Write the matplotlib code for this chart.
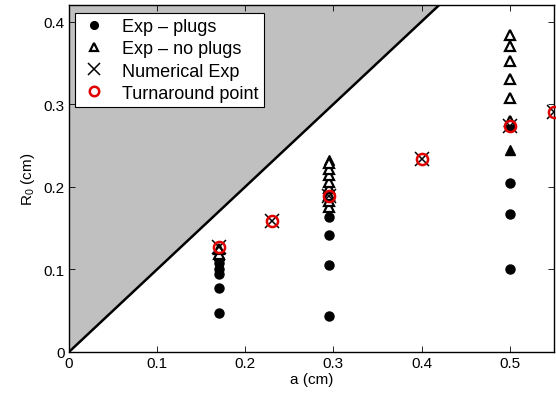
import matplotlib
matplotlib.use('Agg')
import matplotlib.pyplot as plt
import numpy as np

plt.rcParams['font.family'] = ['Liberation Sans', 'DejaVu Sans']
plt.rcParams['mathtext.default'] = 'regular'

# datos experimentales con tapones
plugs_a = [0.17, 0.17, 0.17, 0.17, 0.17, 0.17,
           0.295, 0.295, 0.295, 0.295,
           0.5, 0.5, 0.5, 0.5]
plugs_r = [0.047, 0.078, 0.094, 0.101, 0.108, 0.113,
           0.044, 0.105, 0.142, 0.163,
           0.101, 0.167, 0.204, 0.272]

# datos experimentales sin tapones
noplugs_a = [0.17, 0.17,
             0.295, 0.295, 0.295, 0.295, 0.295, 0.295, 0.295, 0.295,
             0.5, 0.5, 0.5, 0.5, 0.5, 0.5]
noplugs_r = [0.118, 0.125,
             0.176, 0.183, 0.19, 0.198, 0.206, 0.214, 0.222, 0.229,
             0.28, 0.307, 0.331, 0.352, 0.370, 0.384]

# triangulos rellenos (superpuestos)
filled_a = [0.17, 0.295, 0.5, 0.5]
filled_r = [0.117, 0.232, 0.245, 0.279]

# numerico y punto de retorno
num_a = [0.17, 0.23, 0.295, 0.4, 0.5, 0.55]
num_r = [0.127, 0.158, 0.189, 0.234, 0.273, 0.291]

xticks = [0, 0.1, 0.2, 0.3, 0.4, 0.5]
xlabels = ['0', '0.1', '0.2', '0.3', '0.4', '0.5']
yticks = [0, 0.1, 0.2, 0.3, 0.4]
ylabels = ['0', '0.1', '0.2', '0.3', '0.4']

fig = plt.figure(figsize=(5.56, 4.02), dpi=100)
ax = fig.add_axes([0.124, 0.122, 0.872, 0.863])

# region sombreada R0 > a
diag = np.array([0, 0.42])
ax.fill_between(diag, diag, 0.42, color='#c0c0c0', lw=0, zorder=0)
ax.plot(diag, diag, color='black', lw=1.8, zorder=1)

ax.plot(plugs_a, plugs_r, 'o', color='black', ms=6.5, zorder=2,
        label='Exp \u2013 plugs')
ax.plot(noplugs_a, noplugs_r, '^', mfc='white', mec='black', mew=1.6, ms=7,
        zorder=3, label='Exp \u2013 no plugs')
ax.plot(filled_a, filled_r, '^', color='black', ms=7, zorder=2.5)
ax.plot(num_a, num_r, 'x', color='black', ms=10, mew=1.1, zorder=4,
        label='Numerical Exp')
ax.plot(num_a, num_r, 'o', mfc='none', mec='#e00000', mew=1.8, ms=8,
        zorder=5, label='Turnaround point', clip_on=False)

ax.set_xlim(0, 0.55)
ax.set_ylim(0, 0.42)
ax.set_xticks(xticks)
ax.set_xticklabels(xlabels)
ax.set_yticks(yticks)
ax.set_yticklabels(ylabels)
ax.tick_params(direction='in', length=4, width=0.6, labelsize=11,
               top=True, right=True, pad=3)
for s in ax.spines.values():
    s.set_linewidth(1.0)

ax.set_xlabel('a (cm)', fontsize=11, labelpad=1)
ax.set_ylabel('R$_0$ (cm)', fontsize=11, labelpad=5)

leg = ax.legend(loc='upper left', bbox_to_anchor=(0.012, 0.978),
                fontsize=13, frameon=True, fancybox=False, framealpha=1,
                edgecolor='black', borderaxespad=0, handlelength=1.5,
                labelspacing=0.28, borderpad=0.32, handletextpad=0.8,
                markerscale=0.85)
leg.get_frame().set_linewidth(0.8)

plt.savefig('out.png', dpi=100)
